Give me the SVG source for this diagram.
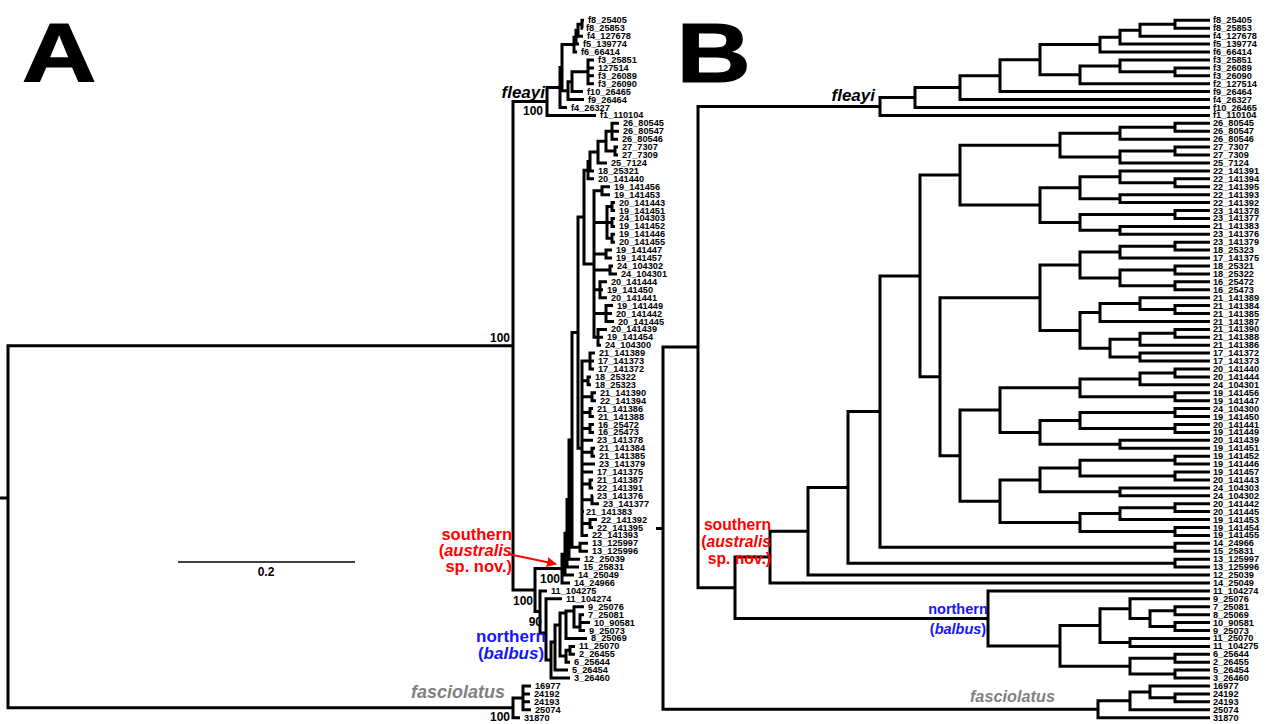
<svg xmlns="http://www.w3.org/2000/svg" width="1269" height="724" viewBox="0 0 1269 724">
<style>
.br{fill:none;stroke:#000;stroke-width:3;stroke-linejoin:miter;stroke-linecap:butt}
.t{font-family:"Liberation Sans",Arial,sans-serif;font-weight:bold;font-size:9.2px;dominant-baseline:central;fill:#000}
.s{font-family:"Liberation Sans",Arial,sans-serif;font-weight:bold;font-size:12px;fill:#000}
.big{font-family:"Liberation Sans",Arial,sans-serif;font-weight:bold;font-size:83px;fill:#000;stroke:#000;stroke-width:1.2}
.cl{font-family:"Liberation Sans",Arial,sans-serif;font-weight:bold}
.red{fill:#ff0000}.blue{fill:#1414ff}.gray{fill:#808080}
</style>
<defs>
<marker id="ah" viewBox="0 0 10 10" refX="9" refY="5" markerWidth="5" markerHeight="5" orient="auto"><path d="M0 0L10 5L0 10z" fill="#ff0000"/></marker>
</defs>
<rect width="1269" height="724" fill="#fff"/>
<g id="panel-labels">
<text id="label-A" class="big" transform="translate(22,82) scale(1.24,1)">A</text>
<text id="label-B" class="big" transform="translate(676.5,82) scale(1.24,1)">B</text>
</g>
<g id="connectors">
<g id="treeA">
<path class="br" d="M0 498H8M513 707.8H8V345.75H513"/>
<path class="br" d="M523 697.9H513V717.7H520M531 686H523V709.8H531M523 693.9H530M523 701.8H530"/>
<path class="br" d="M547 101.5H513V590H535"/>
<path class="br" d="M560 87.6H547V115.4H596M562 67.6H560V107.5H567M574 44.6H562V90.65H568M572 81.7H568V99.6H584M588 71.8H572V91.6H583M594 59.9H588V83.7H594M588 67.9H594M588 75.8H594M576 37.2H574V52H577M578 30.2H576V44.1H579M582 24.25H578V36.2H583M584 20.3H582V28.2H583"/>
<path class="br" d="M562 568.6H535V611.4H540"/>
<path class="br" d="M565 554.2H562V583H570M567 533.3H565V575H574M569 499.6H567V567.1H579M572 440H569V559.2H580M578 332.6H572V547.3H580M588 543.3H580V551.3H588M584 217.1H578V448.2H582M588 170.15H584V264H594M590 161.5H588V178.8H594M598 152.1H590V170.9H594"/>
<path class="br" d="M606 141.2H598V163H607M612 131.3H606V151.05H615M619 123.3H612V139.2H618M612 131.3H619M618 147.1H615V155H618"/>
<path class="br" d="M602 190.7H594V337.3H598M594 222.4H607M594 254.1H606M594 269.95H610M594 289.8H600M594 313.5H606M610 186.7H602V194.7H610M612 206.55H607V238.25H612M607 222.4H612M615 202.6H612V210.5H615M615 218.4H612V226.4H615M615 234.3H612V242.2H615M612 250.1H606V258.1H612M613 266H610V273.9H617M607 281.8H600V297.7H607M600 289.8H603M613 305.6H606V321.5H614M606 313.5H612M607 329.4H598V345.2H601M598 337.3H603"/>
<path class="br" d="M590 361.1H582V535.4H588M582 380.85H588M582 396.75H592M582 412.55H590M582 428.45H590M582 440.3H593M582 452.2H592M582 464.1H595M582 472H593M582 483.9H590M582 499.75H592M582 511.6H584M582 523.55H590M595 353.1H590V369H594M590 361.1H594M591 376.9H588V384.8H591M596 392.8H592V400.7H596M593 408.6H590V416.5H594M594 424.5H590V432.4H594M595 448.2H592V456.2H595M593 479.9H590V487.9H593M593 495.8H592V503.7H599M597 519.6H590V527.5H593"/>
<path class="br" d="M547 590.9H540V633H546M562 598.8H546V660H551M555 642H551V678.1H570M560 625H555V670.1H568M566 613H560V656H566M570 650.35H566V662.2H570M575 646.4H570V654.3H575M574 611H566V638.4H587M584 606.7H574V627H580M584 614.7H580V630.5H585M580 622.6H590"/>
<path d="M178 562H355" stroke="#000" stroke-width="1.5"/>
<path d="M508 554L556 564" stroke="#ff0000" stroke-width="2" fill="none" marker-end="url(#ah)"/>
</g>
<g id="treeB">
<path class="br" d="M656 528.5H663M698 347.1H663V709.3H1098M880 106.5H698V587.75H735"/>
<path class="br" d="M915 97.6H880V115.4H1210M960 87.6H915V107.5H1210M1000 75.7H960V99.6H1210M1040 59.7H1000V91.6H1210M1100 44.6H1040V74.8H1080M1120 37.2H1100V52H1210M1140 30.2H1120V44.1H1210M1175 24.25H1140V36.2H1210M1210 20.3H1175V28.2H1210M1120 65.9H1080V83.7H1210M1210 59.9H1120V71.85H1175M1210 67.9H1175V75.8H1210"/>
<path class="br" d="M770 557.1H735V618.4H988M808 531.2H770V583H1210M848 487.4H808V575H1210M880 411.6H848V563.15H1175M1210 559.2H1175V567.1H1210M920 275.9H880V547.3H1175M1210 543.3H1175V551.3H1210M960 175.1H920V376.7H940M1040 297.7H940V455.65H960"/>
<path class="br" d="M1060 145.2H960V205.05H1040M1120 133.3H1060V157H1120M1175 127.3H1120V139.2H1210M1210 123.3H1175V131.3H1210M1175 151.05H1120V163H1210M1210 147.1H1175V155H1210"/>
<path class="br" d="M1080 187.7H1040V222.4H1080M1120 176.8H1080V198.65H1120M1210 170.9H1120V182.75H1175M1210 178.8H1175V186.7H1210M1210 194.7H1120V202.6H1210M1175 214.45H1080V230.35H1120M1210 210.5H1175V218.4H1210M1210 226.4H1120V234.3H1210"/>
<path class="br" d="M1080 265H1040V330.4H1080M1120 252.1H1080V277.9H1120M1175 246.15H1120V258.1H1210M1210 242.2H1175V250.1H1210M1175 269.95H1120V285.8H1175M1210 266H1175V273.9H1210M1210 281.8H1175V289.8H1210M1100 312.55H1080V348.2H1110M1140 303.6H1100V321.5H1210M1210 297.7H1140V309.55H1175M1210 305.6H1175V313.5H1210M1140 339.3H1110V357.1H1140M1175 333.35H1140V345.2H1210M1210 329.4H1175V337.3H1210M1210 353.1H1140V361.1H1210"/>
<path class="br" d="M1000 410.1H960V501.2H1000M1080 387.8H1000V432.4H1040M1140 378.9H1080V396.75H1175M1175 372.95H1140V384.8H1210M1210 369H1175V376.9H1210M1210 392.8H1175V400.7H1210M1080 420.5H1040V444.25H1120M1175 412.55H1080V428.45H1175M1210 408.6H1175V416.5H1210M1210 424.5H1175V432.4H1210M1210 440.3H1120V448.2H1210"/>
<path class="br" d="M1040 479.95H1000V522.5H1080M1080 468.05H1040V491.85H1120M1175 460.15H1080V475.95H1175M1210 456.2H1175V464.1H1210M1210 472H1175V479.9H1210M1210 487.9H1120V495.8H1210M1120 513.6H1080V531.45H1175M1175 507.65H1120V519.6H1210M1210 503.7H1175V511.6H1210M1210 527.5H1175V535.4H1210"/>
<path class="br" d="M1210 590.9H988V645.9H1060M1100 625.55H1060V666.2H1130M1130 608.7H1100V642.4H1130M1210 598.8H1130V618.6H1150M1175 610.7H1150V626.55H1175M1210 606.7H1175V614.7H1210M1210 622.6H1175V630.5H1210M1210 638.4H1130V646.4H1210M1175 658.25H1130V674.1H1175M1210 654.3H1175V662.2H1210M1210 670.1H1175V678.1H1210"/>
<path class="br" d="M1130 700.85H1098V717.7H1210M1150 691.9H1130V709.8H1210M1210 686H1150V697.85H1175M1210 693.9H1175V701.8H1210"/>
</g>
</g>
<g id="cladeA">
<text id="A-fleayi" class="cl" x="545" y="98" font-size="17" font-style="italic" text-anchor="end">fleayi</text>
<text id="A-southern" class="cl red" font-size="16.5" text-anchor="end"><tspan x="512" y="540">southern</tspan><tspan x="512" y="556">(<tspan font-style="italic">australis</tspan></tspan><tspan x="512" y="572">sp. nov.)</tspan></text>
<text id="A-northern" class="cl blue" font-size="17" text-anchor="middle"><tspan x="511" y="642">northern</tspan><tspan x="511" y="659">(<tspan font-style="italic">balbus</tspan>)</tspan></text>
<text id="A-fasciolatus" class="cl gray" x="505" y="698" font-size="18" font-style="italic" text-anchor="end">fasciolatus</text>
<text class="s" x="510" y="342" text-anchor="end">100</text>
<text class="s" x="543" y="115" text-anchor="end">100</text>
<text class="s" x="560" y="583" text-anchor="end">100</text>
<text class="s" x="533" y="605" text-anchor="end">100</text>
<text class="s" x="542" y="626" text-anchor="end">90</text>
<text class="s" x="510" y="721" text-anchor="end">100</text>
<text class="s" x="266" y="576" text-anchor="middle" font-size="10">0.2</text>
</g>
<g id="cladeB">
<text id="B-fleayi" class="cl" x="875" y="101" font-size="17" font-style="italic" text-anchor="end">fleayi</text>
<text id="B-southern" class="cl red" font-size="15.7" text-anchor="end"><tspan x="771" y="530">southern</tspan><tspan x="771" y="547">(<tspan font-style="italic">australis</tspan></tspan><tspan x="771" y="564">sp. nov.)</tspan></text>
<text id="B-northern" class="cl blue" font-size="14.5" text-anchor="middle"><tspan x="958" y="614">northern</tspan><tspan x="958" y="634">(<tspan font-style="italic">balbus</tspan>)</tspan></text>
<text id="B-fasciolatus" class="cl gray" x="1055" y="702" font-size="16.3" font-style="italic" text-anchor="end">fasciolatus</text>
</g>
<g id="leavesA">
<text id="A-f8_25405" class="t" x="588" y="20.3">f8_25405</text>
<text id="A-f8_25853" class="t" x="586" y="28.2">f8_25853</text>
<text id="A-f4_127678" class="t" x="587" y="36.2">f4_127678</text>
<text id="A-f5_139774" class="t" x="583" y="44.1">f5_139774</text>
<text id="A-f6_66414" class="t" x="581" y="52">f6_66414</text>
<text id="A-f3_25851" class="t" x="598" y="59.9">f3_25851</text>
<text id="A-127514" class="t" x="598" y="67.9">127514</text>
<text id="A-f3_26089" class="t" x="598" y="75.8">f3_26089</text>
<text id="A-f3_26090" class="t" x="598" y="83.7">f3_26090</text>
<text id="A-f10_26465" class="t" x="587" y="91.6">f10_26465</text>
<text id="A-f9_26464" class="t" x="588" y="99.6">f9_26464</text>
<text id="A-f4_26327" class="t" x="571" y="107.5">f4_26327</text>
<text id="A-f1_110104" class="t" x="600" y="115.4">f1_110104</text>
<text id="A-26_80545" class="t" x="623" y="123.3">26_80545</text>
<text id="A-26_80547" class="t" x="623" y="131.3">26_80547</text>
<text id="A-26_80546" class="t" x="622" y="139.2">26_80546</text>
<text id="A-27_7307" class="t" x="622" y="147.1">27_7307</text>
<text id="A-27_7309" class="t" x="622" y="155">27_7309</text>
<text id="A-25_7124" class="t" x="611" y="163">25_7124</text>
<text id="A-18_25321" class="t" x="598" y="170.9">18_25321</text>
<text id="A-20_141440" class="t" x="598" y="178.8">20_141440</text>
<text id="A-19_141456" class="t" x="614" y="186.7">19_141456</text>
<text id="A-19_141453" class="t" x="614" y="194.7">19_141453</text>
<text id="A-20_141443" class="t" x="619" y="202.6">20_141443</text>
<text id="A-19_141451" class="t" x="619" y="210.5">19_141451</text>
<text id="A-24_104303" class="t" x="619" y="218.4">24_104303</text>
<text id="A-19_141452" class="t" x="619" y="226.4">19_141452</text>
<text id="A-19_141446" class="t" x="619" y="234.3">19_141446</text>
<text id="A-20_141455" class="t" x="619" y="242.2">20_141455</text>
<text id="A-19_141447" class="t" x="616" y="250.1">19_141447</text>
<text id="A-19_141457" class="t" x="616" y="258.1">19_141457</text>
<text id="A-24_104302" class="t" x="617" y="266">24_104302</text>
<text id="A-24_104301" class="t" x="621" y="273.9">24_104301</text>
<text id="A-20_141444" class="t" x="611" y="281.8">20_141444</text>
<text id="A-19_141450" class="t" x="607" y="289.8">19_141450</text>
<text id="A-20_141441" class="t" x="611" y="297.7">20_141441</text>
<text id="A-19_141449" class="t" x="617" y="305.6">19_141449</text>
<text id="A-20_141442" class="t" x="616" y="313.5">20_141442</text>
<text id="A-20_141445" class="t" x="618" y="321.5">20_141445</text>
<text id="A-20_141439" class="t" x="611" y="329.4">20_141439</text>
<text id="A-19_141454" class="t" x="607" y="337.3">19_141454</text>
<text id="A-24_104300" class="t" x="605" y="345.2">24_104300</text>
<text id="A-21_141389" class="t" x="599" y="353.1">21_141389</text>
<text id="A-17_141373" class="t" x="598" y="361.1">17_141373</text>
<text id="A-17_141372" class="t" x="598" y="369">17_141372</text>
<text id="A-18_25322" class="t" x="595" y="376.9">18_25322</text>
<text id="A-18_25323" class="t" x="595" y="384.8">18_25323</text>
<text id="A-21_141390" class="t" x="600" y="392.8">21_141390</text>
<text id="A-22_141394" class="t" x="600" y="400.7">22_141394</text>
<text id="A-21_141386" class="t" x="597" y="408.6">21_141386</text>
<text id="A-21_141388" class="t" x="598" y="416.5">21_141388</text>
<text id="A-16_25472" class="t" x="598" y="424.5">16_25472</text>
<text id="A-16_25473" class="t" x="598" y="432.4">16_25473</text>
<text id="A-23_141378" class="t" x="597" y="440.3">23_141378</text>
<text id="A-21_141384" class="t" x="599" y="448.2">21_141384</text>
<text id="A-21_141385" class="t" x="599" y="456.2">21_141385</text>
<text id="A-23_141379" class="t" x="599" y="464.1">23_141379</text>
<text id="A-17_141375" class="t" x="597" y="472">17_141375</text>
<text id="A-21_141387" class="t" x="597" y="479.9">21_141387</text>
<text id="A-22_141391" class="t" x="597" y="487.9">22_141391</text>
<text id="A-23_141376" class="t" x="597" y="495.8">23_141376</text>
<text id="A-23_141377" class="t" x="603" y="503.7">23_141377</text>
<text id="A-21_141383" class="t" x="586" y="511.6">21_141383</text>
<text id="A-22_141392" class="t" x="601" y="519.6">22_141392</text>
<text id="A-22_141395" class="t" x="597" y="527.5">22_141395</text>
<text id="A-22_141393" class="t" x="592" y="535.4">22_141393</text>
<text id="A-13_125997" class="t" x="592" y="543.3">13_125997</text>
<text id="A-13_125996" class="t" x="592" y="551.3">13_125996</text>
<text id="A-12_25039" class="t" x="584" y="559.2">12_25039</text>
<text id="A-15_25831" class="t" x="583" y="567.1">15_25831</text>
<text id="A-14_25049" class="t" x="578" y="575">14_25049</text>
<text id="A-14_24966" class="t" x="574" y="583">14_24966</text>
<text id="A-11_104275" class="t" x="551" y="590.9">11_104275</text>
<text id="A-11_104274" class="t" x="566" y="598.8">11_104274</text>
<text id="A-9_25076" class="t" x="588" y="606.7">9_25076</text>
<text id="A-7_25081" class="t" x="588" y="614.7">7_25081</text>
<text id="A-10_90581" class="t" x="594" y="622.6">10_90581</text>
<text id="A-9_25073" class="t" x="589" y="630.5">9_25073</text>
<text id="A-8_25069" class="t" x="591" y="638.4">8_25069</text>
<text id="A-11_25070" class="t" x="579" y="646.4">11_25070</text>
<text id="A-2_26455" class="t" x="579" y="654.3">2_26455</text>
<text id="A-6_25644" class="t" x="574" y="662.2">6_25644</text>
<text id="A-5_26454" class="t" x="572" y="670.1">5_26454</text>
<text id="A-3_26460" class="t" x="574" y="678.1">3_26460</text>
<text id="A-16977" class="t" x="535" y="686">16977</text>
<text id="A-24192" class="t" x="534" y="693.9">24192</text>
<text id="A-24193" class="t" x="534" y="701.8">24193</text>
<text id="A-25074" class="t" x="535" y="709.8">25074</text>
<text id="A-31870" class="t" x="524" y="717.7">31870</text>
</g>
<g id="leavesB">
<text id="B-f8_25405" class="t" x="1213" y="20.3">f8_25405</text>
<text id="B-f8_25853" class="t" x="1213" y="28.2">f8_25853</text>
<text id="B-f4_127678" class="t" x="1213" y="36.2">f4_127678</text>
<text id="B-f5_139774" class="t" x="1213" y="44.1">f5_139774</text>
<text id="B-f6_66414" class="t" x="1213" y="52">f6_66414</text>
<text id="B-f3_25851" class="t" x="1213" y="59.9">f3_25851</text>
<text id="B-f3_26089" class="t" x="1213" y="67.9">f3_26089</text>
<text id="B-f3_26090" class="t" x="1213" y="75.8">f3_26090</text>
<text id="B-f2_127514" class="t" x="1213" y="83.7">f2_127514</text>
<text id="B-f9_26464" class="t" x="1213" y="91.6">f9_26464</text>
<text id="B-f4_26327" class="t" x="1213" y="99.6">f4_26327</text>
<text id="B-f10_26465" class="t" x="1213" y="107.5">f10_26465</text>
<text id="B-f1_110104" class="t" x="1213" y="115.4">f1_110104</text>
<text id="B-26_80545" class="t" x="1213" y="123.3">26_80545</text>
<text id="B-26_80547" class="t" x="1213" y="131.3">26_80547</text>
<text id="B-26_80546" class="t" x="1213" y="139.2">26_80546</text>
<text id="B-27_7307" class="t" x="1213" y="147.1">27_7307</text>
<text id="B-27_7309" class="t" x="1213" y="155">27_7309</text>
<text id="B-25_7124" class="t" x="1213" y="163">25_7124</text>
<text id="B-22_141391" class="t" x="1213" y="170.9">22_141391</text>
<text id="B-22_141394" class="t" x="1213" y="178.8">22_141394</text>
<text id="B-22_141395" class="t" x="1213" y="186.7">22_141395</text>
<text id="B-22_141393" class="t" x="1213" y="194.7">22_141393</text>
<text id="B-22_141392" class="t" x="1213" y="202.6">22_141392</text>
<text id="B-23_141378" class="t" x="1213" y="210.5">23_141378</text>
<text id="B-23_141377" class="t" x="1213" y="218.4">23_141377</text>
<text id="B-21_141383" class="t" x="1213" y="226.4">21_141383</text>
<text id="B-23_141376" class="t" x="1213" y="234.3">23_141376</text>
<text id="B-23_141379" class="t" x="1213" y="242.2">23_141379</text>
<text id="B-18_25323" class="t" x="1213" y="250.1">18_25323</text>
<text id="B-17_141375" class="t" x="1213" y="258.1">17_141375</text>
<text id="B-18_25321" class="t" x="1213" y="266">18_25321</text>
<text id="B-18_25322" class="t" x="1213" y="273.9">18_25322</text>
<text id="B-16_25472" class="t" x="1213" y="281.8">16_25472</text>
<text id="B-16_25473" class="t" x="1213" y="289.8">16_25473</text>
<text id="B-21_141389" class="t" x="1213" y="297.7">21_141389</text>
<text id="B-21_141384" class="t" x="1213" y="305.6">21_141384</text>
<text id="B-21_141385" class="t" x="1213" y="313.5">21_141385</text>
<text id="B-21_141387" class="t" x="1213" y="321.5">21_141387</text>
<text id="B-21_141390" class="t" x="1213" y="329.4">21_141390</text>
<text id="B-21_141388" class="t" x="1213" y="337.3">21_141388</text>
<text id="B-21_141386" class="t" x="1213" y="345.2">21_141386</text>
<text id="B-17_141372" class="t" x="1213" y="353.1">17_141372</text>
<text id="B-17_141373" class="t" x="1213" y="361.1">17_141373</text>
<text id="B-20_141440" class="t" x="1213" y="369">20_141440</text>
<text id="B-20_141444" class="t" x="1213" y="376.9">20_141444</text>
<text id="B-24_104301" class="t" x="1213" y="384.8">24_104301</text>
<text id="B-19_141456" class="t" x="1213" y="392.8">19_141456</text>
<text id="B-19_141447" class="t" x="1213" y="400.7">19_141447</text>
<text id="B-24_104300" class="t" x="1213" y="408.6">24_104300</text>
<text id="B-19_141450" class="t" x="1213" y="416.5">19_141450</text>
<text id="B-20_141441" class="t" x="1213" y="424.5">20_141441</text>
<text id="B-19_141449" class="t" x="1213" y="432.4">19_141449</text>
<text id="B-20_141439" class="t" x="1213" y="440.3">20_141439</text>
<text id="B-19_141451" class="t" x="1213" y="448.2">19_141451</text>
<text id="B-19_141452" class="t" x="1213" y="456.2">19_141452</text>
<text id="B-19_141446" class="t" x="1213" y="464.1">19_141446</text>
<text id="B-19_141457" class="t" x="1213" y="472">19_141457</text>
<text id="B-20_141443" class="t" x="1213" y="479.9">20_141443</text>
<text id="B-24_104303" class="t" x="1213" y="487.9">24_104303</text>
<text id="B-24_104302" class="t" x="1213" y="495.8">24_104302</text>
<text id="B-20_141442" class="t" x="1213" y="503.7">20_141442</text>
<text id="B-20_141445" class="t" x="1213" y="511.6">20_141445</text>
<text id="B-19_141453" class="t" x="1213" y="519.6">19_141453</text>
<text id="B-19_141454" class="t" x="1213" y="527.5">19_141454</text>
<text id="B-19_141455" class="t" x="1213" y="535.4">19_141455</text>
<text id="B-14_24966" class="t" x="1213" y="543.3">14_24966</text>
<text id="B-15_25831" class="t" x="1213" y="551.3">15_25831</text>
<text id="B-13_125997" class="t" x="1213" y="559.2">13_125997</text>
<text id="B-13_125996" class="t" x="1213" y="567.1">13_125996</text>
<text id="B-12_25039" class="t" x="1213" y="575">12_25039</text>
<text id="B-14_25049" class="t" x="1213" y="583">14_25049</text>
<text id="B-11_104274" class="t" x="1213" y="590.9">11_104274</text>
<text id="B-9_25076" class="t" x="1213" y="598.8">9_25076</text>
<text id="B-7_25081" class="t" x="1213" y="606.7">7_25081</text>
<text id="B-8_25069" class="t" x="1213" y="614.7">8_25069</text>
<text id="B-10_90581" class="t" x="1213" y="622.6">10_90581</text>
<text id="B-9_25073" class="t" x="1213" y="630.5">9_25073</text>
<text id="B-11_25070" class="t" x="1213" y="638.4">11_25070</text>
<text id="B-11_104275" class="t" x="1213" y="646.4">11_104275</text>
<text id="B-6_25644" class="t" x="1213" y="654.3">6_25644</text>
<text id="B-2_26455" class="t" x="1213" y="662.2">2_26455</text>
<text id="B-5_26454" class="t" x="1213" y="670.1">5_26454</text>
<text id="B-3_26460" class="t" x="1213" y="678.1">3_26460</text>
<text id="B-16977" class="t" x="1213" y="686">16977</text>
<text id="B-24192" class="t" x="1213" y="693.9">24192</text>
<text id="B-24193" class="t" x="1213" y="701.8">24193</text>
<text id="B-25074" class="t" x="1213" y="709.8">25074</text>
<text id="B-31870" class="t" x="1213" y="717.7">31870</text>
</g>
</svg>
